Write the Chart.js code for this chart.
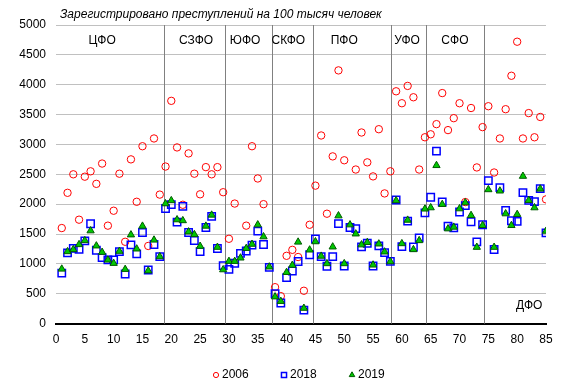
<!DOCTYPE html>
<html><head><meta charset="utf-8">
<script src="https://cdn.jsdelivr.net/npm/chart.js@4.4.1/dist/chart.umd.min.js"></script>
<style>html,body{margin:0;padding:0;background:#fff}</style>
</head><body>
<canvas id="c" width="573" height="390" style="width:573px;height:390px;display:block"></canvas>
<script>
// Region numbers 1..85
const regionNumbers = [];
for (let i = 1; i <= 85; i++) regionNumbers.push(i);

const values2006 = [1600,2190,2500,1740,2460,2550,2340,2680,1640,1890,2510,1370,2750,2040,2970,1300,3100,2160,
  2630,3730,2950,1990,2850,2510,2165,2620,2500,2620,2200,
  1420,2010,null,1640,2970,2430,2000,null,
  610,460,1135,1235,1115,550,1655,
  2310,3150,1840,2800,4240,2735,null,2580,3200,2700,2465,3255,2180,2550,
  3890,3690,3980,3790,2580,3120,
  3170,3340,3860,3240,3440,3690,2035,3610,2615,3290,
  3640,2530,3100,3590,4150,4720,3100,3525,3120,3460,2080];

const values2018 = [845,1185,1260,1245,1386,1672,1229,1105,1066,1066,1206,830,1318,1167,1526,898,1324,1122,
  1927,1992,1700,1964,1526,1391,1206,1610,1795,1257,971,
  909,1010,1175,1215,1313,1548,1324,942,
  500,345,770,880,1040,225,1153,
  1416,1122,960,1122,1675,965,1610,1590,1285,1346,965,1302,1189,1043,
  2070,1288,1717,1282,1436,1854,
  2115,2889,2036,1633,1604,1868,1975,1705,1369,1655,
  2395,1240,2278,1896,1722,1711,2193,2064,2042,2261,1520];

const values2019 = [914,1206,1240,1324,1391,1555,1302,1195,1066,1010,1212,909,1487,1251,1633,884,1400,1122,
  2008,2060,1740,1725,1537,1492,1296,1633,1818,1279,903,
  1043,1043,1100,1260,1330,1655,1455,950,
  449,373,858,978,1366,258,1234,
  1372,1130,1005,1285,1806,1005,1655,1503,1320,1360,982,1335,1201,1038,
  2060,1340,1733,1240,1391,1920,
  1941,2648,1997,1588,1616,1924,2025,1812,1279,1644,
  2244,1279,2222,1840,1644,1829,2468,2064,1941,2255,1548];

const seriesNames = ['2006','2018','2019'];
const districtNames = ['ЦФО','СЗФО','ЮФО','СКФО','ПФО','УФО','СФО','ДФО'];
const districtLabelX = [8.0,24.3,32.8,40.3,50.0,60.9,69.2,82.1];
const districtLabelY = [4740,4740,4740,4740,4740,4740,4740,300];
const districtBounds = [18.7,29.4,37.5,44.6,58.1,64.1,74.25];
const xTicks = {min:0, max:85, step:5};
const yTicks = {min:0, max:5000, step:500};
const titleText = 'Зарегистрировано преступлений на 100 тысяч человек';

const FONT = '"Liberation Sans", Arial, sans-serif';

function toPoints(vals){
  const pts = [];
  vals.forEach((v,i)=>{ if (v !== null) pts.push({x: regionNumbers[i], y: v}); });
  return pts;
}

const styles = [
  {pointStyle:'circle', radius:3.7, borderColor:'#ff0000', backgroundColor:'rgba(255,255,255,0)', borderWidth:1},
  {pointStyle:'rect', radius:5.2, borderColor:'#0000ff', backgroundColor:'rgba(255,255,255,0)', borderWidth:1.5},
  {pointStyle:'triangle', radius:4.2, borderColor:'#005a00', backgroundColor:'#00c800', borderWidth:1}
];

const overlay = {
  id:'overlay',
  beforeDatasetsDraw(chart){
    const {ctx, chartArea, scales:{x,y}} = chart;
    ctx.save();
    ctx.strokeStyle = '#808080';
    ctx.lineWidth = 1;
    districtBounds.forEach(b=>{
      const px = Math.round(x.getPixelForValue(b)) + 0.5;
      ctx.beginPath(); ctx.moveTo(px, chartArea.top); ctx.lineTo(px, chartArea.bottom); ctx.stroke();
    });
    ctx.fillStyle = '#000';
    ctx.font = '12px ' + FONT;
    ctx.textAlign = 'center'; ctx.textBaseline = 'middle';
    districtNames.forEach((n,i)=>{
      ctx.fillText(n, x.getPixelForValue(districtLabelX[i]), y.getPixelForValue(districtLabelY[i]));
    });
    ctx.restore();
  },
  afterDraw(chart){
    const {ctx, chartArea} = chart;
    ctx.save();
    ctx.fillStyle = '#000';
    ctx.font = 'italic 12px ' + FONT;
    ctx.textAlign = 'left'; ctx.textBaseline = 'middle';
    ctx.fillText(titleText, chartArea.left + 4, 15);
    // legend
    ctx.font = '12px ' + FONT;
    const spacing = 68;
    const cx = (chartArea.left + chartArea.right) / 2;
    const startX = cx - spacing - 17;
    const ly = 375;
    const legendStyles = [
      {pointStyle:'circle', radius:2.6},
      {pointStyle:'rect', radius:3.6},
      {pointStyle:'triangle', radius:3.2}
    ];
    seriesNames.forEach((n,i)=>{
      const mx = startX + i*spacing;
      const st = styles[i];
      ctx.strokeStyle = st.borderColor; ctx.fillStyle = st.backgroundColor;
      ctx.lineWidth = i===1 ? 1.5 : 1;
      Chart.helpers.drawPoint(ctx, {pointStyle: legendStyles[i].pointStyle, radius: legendStyles[i].radius, rotation:0, borderWidth: ctx.lineWidth}, mx, ly);
      ctx.fillStyle = '#000';
      ctx.fillText(n, mx + 6, ly);
    });
    ctx.restore();
  }
};

const chart = new Chart(document.getElementById('c'), {
  type:'scatter',
  data:{
    datasets: seriesNames.map((n,i)=>({
      label:n,
      data: toPoints([values2006, values2018, values2019][i]),
      pointStyle: styles[i].pointStyle,
      pointRadius: styles[i].radius,
      pointHoverRadius: styles[i].radius,
      pointBorderColor: styles[i].borderColor,
      pointBackgroundColor: styles[i].backgroundColor,
      pointBorderWidth: styles[i].borderWidth,
      borderColor: styles[i].borderColor,
      backgroundColor: styles[i].backgroundColor,
      showLine:false,
      order: 2 - i
    }))
  },
  options:{
    responsive:false,
    animation:false,
    devicePixelRatio:1,
    layout:{padding:{left:0, right:27, top:25, bottom:34}},
    plugins:{legend:{display:false}, title:{display:false}, tooltip:{enabled:false}},
    scales:{
      x:{
        type:'linear', min:xTicks.min, max:xTicks.max,
        ticks:{stepSize:xTicks.step, color:'#000', font:{family:FONT, size:12}, padding:9, maxRotation:0, autoSkip:false,
          callback:(v)=>String(v)},
        grid:{display:false, drawTicks:false},
        border:{display:true, color:'#000', width:2}
      },
      y:{
        type:'linear', min:yTicks.min, max:yTicks.max,
        ticks:{stepSize:yTicks.step, color:'#000', font:{family:FONT, size:12}, padding:10,
          callback:(v)=>String(v)},
        grid:{color:'#c0c0c0', drawTicks:false, lineWidth:1},
        border:{display:false},
        afterFit(s){ s.width = 56; }
      }
    }
  },
  plugins:[overlay]
});
</script>
</body></html>
